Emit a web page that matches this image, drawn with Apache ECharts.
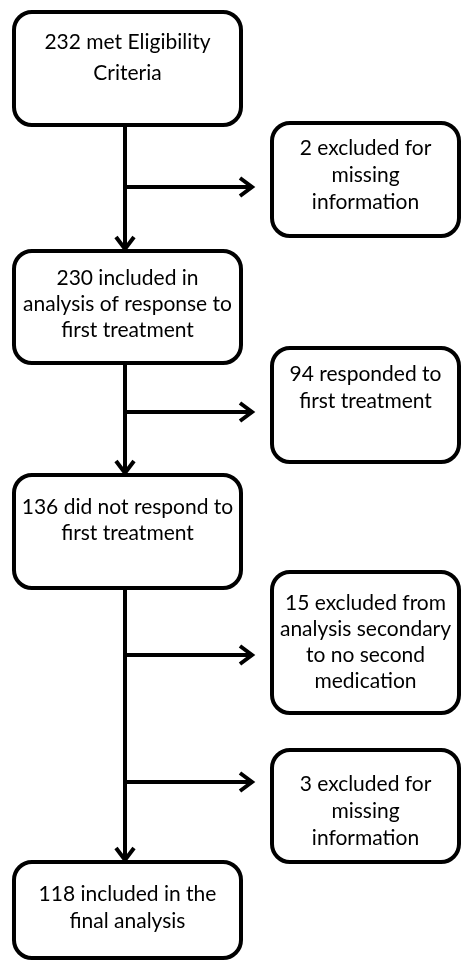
<!DOCTYPE html>
<html>
<head>
<meta charset="utf-8">
<script src="https://cdn.jsdelivr.net/npm/echarts@6/dist/echarts.min.js"></script>
<style>
html, body { margin: 0; padding: 0; background: #fff; }
#flow { width: 462px; height: 972px; }
</style>
</head>
<body>
<div id="flow"></div>
<script>
// patient counts at each step of the flow
var counts = [232, 2, 230, 94, 136, 15, 3, 118];
// text after the count, one entry per line
var labels = [
    ['met Eligibility', 'Criteria'],
    ['excluded for', 'missing', 'information'],
    ['included in', 'analysis of response to', 'first treatment'],
    ['responded to', 'first treatment'],
    ['did not respond to', 'first treatment'],
    ['excluded from', 'analysis secondary', 'to no second', 'medication'],
    ['excluded for', 'missing', 'information'],
    ['included in the', 'final analysis']
];

// layout (in a 462 x 972 value space): x0, y0, x1, y1, first text line y, line height
var boxLayout = [
    [14, 12, 241, 125, 42, 31],
    [272, 123, 459, 236, 148, 27],
    [14, 251, 241, 363, 278, 26],
    [272, 348, 459, 462, 374, 27],
    [14, 475, 241, 588, 507, 26],
    [272, 572, 459, 713, 603, 26],
    [272, 750, 459, 862, 784, 27],
    [14, 862, 241, 958, 894, 27]
];
// connectors: start x, start y, end x, end y (arrowhead at the end)
var linkLayout = [
    [125, 125, 125, 250],
    [125, 187, 253, 187],
    [125, 363, 125, 474],
    [125, 412, 253, 412],
    [125, 588, 125, 861],
    [125, 655, 253, 655],
    [125, 782, 253, 782]
];

var chart = echarts.init(document.getElementById('flow'));

var FONT = '21px Lato, "Open Sans", sans-serif';

function renderBox(params, api) {
    var i = params.dataIndex;
    var p0 = api.coord([api.value(0), api.value(1)]);
    var p1 = api.coord([api.value(2), api.value(3)]);
    var cx = (p0[0] + p1[0]) / 2;
    var ty = api.coord([0, api.value(4)])[1];
    var lh = api.value(5);
    var children = [{
        type: 'rect',
        shape: { x: p0[0], y: p0[1], width: p1[0] - p0[0], height: p1[1] - p0[1], r: 18 },
        style: { fill: '#fff', stroke: '#000', lineWidth: 4 }
    }];
    labels[i].forEach(function (line, k) {
        children.push({
            type: 'text',
            style: {
                x: cx,
                y: ty + k * lh,
                text: k === 0 ? counts[i] + ' ' + line : line,
                font: FONT,
                fill: '#000',
                align: 'center',
                verticalAlign: 'middle'
            }
        });
    });
    return { type: 'group', children: children };
}

function renderLink(params, api) {
    var a = api.coord([api.value(0), api.value(1)]);
    var b = api.coord([api.value(2), api.value(3)]);
    var dx = b[0] - a[0], dy = b[1] - a[1];
    var len = Math.sqrt(dx * dx + dy * dy);
    var ux = dx / len, uy = dy / len;
    var back = 13, spread = 9;
    var h1 = [b[0] - ux * back - uy * spread, b[1] - uy * back + ux * spread];
    var h2 = [b[0] - ux * back + uy * spread, b[1] - uy * back - ux * spread];
    return {
        type: 'group',
        children: [{
            type: 'line',
            shape: { x1: a[0], y1: a[1], x2: b[0] - ux * 2, y2: b[1] - uy * 2 },
            style: { stroke: '#000', lineWidth: 4 }
        }, {
            type: 'polyline',
            shape: { points: [h1, [b[0] - ux * 1, b[1] - uy * 1], h2] },
            style: { stroke: '#000', lineWidth: 4, fill: null, lineJoin: 'miter' }
        }]
    };
}

var option = {
    animation: false,
    backgroundColor: '#fff',
    grid: { left: 0, right: 0, top: 0, bottom: 0 },
    xAxis: { type: 'value', min: 0, max: 462, show: false },
    yAxis: { type: 'value', min: 0, max: 972, inverse: true, show: false },
    series: [{
        type: 'custom',
        name: 'links',
        clip: false,
        silent: true,
        renderItem: renderLink,
        data: linkLayout
    }, {
        type: 'custom',
        name: 'boxes',
        clip: false,
        silent: true,
        renderItem: renderBox,
        data: boxLayout
    }]
};

chart.setOption(option);
window.addEventListener('resize', function () {
    chart.resize();
});
</script>
</body>
</html>
